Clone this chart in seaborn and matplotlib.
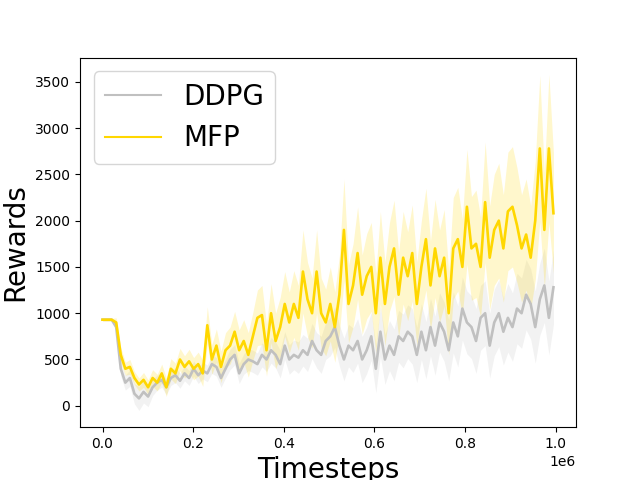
import numpy as np
import pandas as pd
import seaborn as sns
import matplotlib
matplotlib.use("Agg")
import matplotlib.pyplot as plt

# x grid (timesteps), 100 evaluation points
timesteps = np.linspace(0, 995000, 100)

# mean rewards
ddpg_mean = [930, 930, 930, 850, 400, 250, 300, 130, 80, 150,
             100, 200, 250, 280, 200, 300, 330, 270, 350, 300,
             400, 330, 380, 350, 450, 420, 300, 400, 500, 550,
             350, 450, 500, 480, 450, 550, 500, 600, 550, 450,
             650, 500, 550, 520, 600, 550, 700, 600, 550, 700,
             750, 850, 650, 500, 650, 600, 700, 500, 600, 750,
             400, 800, 500, 650, 550, 750, 700, 800, 750, 550,
             800, 600, 850, 650, 900, 800, 600, 900, 750, 1050,
             900, 850, 700, 950, 1000, 650, 900, 1000, 800, 950,
             850, 1050, 1000, 1200, 1100, 850, 1150, 1300, 950, 1280]
mfp_mean = [930, 930, 930, 900, 550, 400, 420, 300, 230, 280,
            200, 300, 250, 350, 200, 400, 350, 500, 420, 480,
            400, 450, 350, 870, 500, 650, 420, 600, 650, 800,
            600, 700, 550, 750, 950, 980, 600, 1000, 700, 850,
            1100, 900, 1100, 950, 1450, 1150, 1000, 1450, 1000, 900,
            1100, 850, 1200, 1900, 1100, 1300, 1650, 1200, 1400, 1500,
            1000, 1600, 1100, 1500, 1700, 1200, 1600, 1400, 1650, 1100,
            1500, 1800, 1300, 1700, 1400, 1600, 1000, 1700, 1800, 1500,
            2150, 1700, 1750, 1500, 2200, 1600, 1900, 2000, 1700, 2100,
            2150, 1950, 1700, 1850, 1600, 2000, 2780, 1900, 2780, 2080]

# spread (std) around each mean
ddpg_std = [15, 15, 15, 40, 80, 80, 90, 110, 130, 120,
            110, 90, 80, 80, 80, 80, 80, 80, 80, 80,
            80, 90, 90, 90, 100, 100, 100, 100, 110, 110,
            110, 110, 120, 120, 120, 130, 130, 140, 140, 150,
            150, 160, 160, 170, 170, 180, 190, 190, 200, 200,
            210, 220, 220, 230, 230, 240, 240, 250, 250, 260,
            260, 270, 270, 270, 280, 280, 290, 290, 300, 300,
            300, 310, 310, 320, 320, 320, 330, 330, 330, 340,
            340, 340, 350, 350, 350, 350, 360, 360, 360, 370,
            370, 380, 380, 380, 380, 390, 390, 400, 400, 400]
mfp_std = [15, 15, 15, 50, 80, 70, 80, 70, 70, 80,
           80, 90, 90, 100, 100, 110, 110, 120, 120, 130,
           120, 130, 140, 200, 160, 180, 170, 190, 200, 220,
           220, 230, 240, 260, 300, 320, 280, 320, 300, 320,
           350, 330, 360, 350, 450, 400, 380, 450, 380, 360,
           400, 380, 420, 550, 420, 450, 500, 430, 460, 480,
           430, 500, 450, 480, 520, 460, 500, 480, 520, 450,
           500, 550, 480, 530, 500, 520, 450, 550, 560, 520,
           620, 560, 580, 540, 650, 560, 600, 620, 580, 640,
           650, 620, 580, 600, 560, 640, 790, 620, 800, 650]

df = pd.DataFrame({
    "Timesteps": np.concatenate([timesteps, timesteps]),
    "Rewards": ddpg_mean + mfp_mean,
    "Method": ["DDPG"] * len(ddpg_mean) + ["MFP"] * len(mfp_mean),
})

colors = {"DDPG": "#c0c0c0", "MFP": "#ffd700"}

fig, ax = plt.subplots(figsize=(6.4, 4.8), dpi=100)
sns.lineplot(data=df, x="Timesteps", y="Rewards", hue="Method",
             palette=colors, ax=ax, linewidth=1.9)

for name, mean, std in [("DDPG", ddpg_mean, ddpg_std), ("MFP", mfp_mean, mfp_std)]:
    m = np.array(mean)
    s = np.array(std)
    ax.fill_between(timesteps, m - s, m + s, color=colors[name], alpha=0.2, linewidth=0)

ax.set_xlabel("Timesteps", fontsize=20)
ax.set_ylabel("Rewards", fontsize=20)
leg = ax.legend(fontsize=20, loc="upper left")
for line in leg.get_lines():
    line.set_linewidth(1.5)

plt.savefig("out.png")
